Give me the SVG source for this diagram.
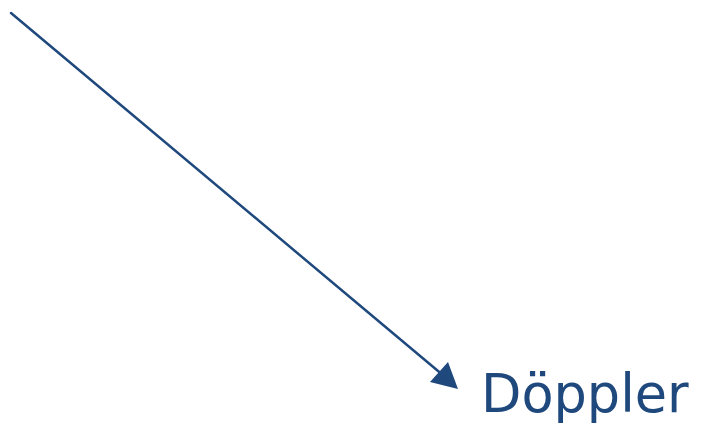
<svg xmlns="http://www.w3.org/2000/svg" width="702" height="425" viewBox="0 0 702 425">
<style>
.lbl{font-family:"DejaVu Sans","Liberation Sans",sans-serif;font-size:52.5px;fill:#1f497d}
.conn{stroke:#1f497d;stroke-width:2.5;fill:none;stroke-linecap:round}
</style>
<rect width="702" height="425" fill="#ffffff"/>
<g id="connectors">
<line class="conn" x1="11" y1="13" x2="444" y2="376"/>
<polygon points="458,389 430,382 448,362" fill="#1f497d"/>
</g>
<g id="node-doppler">
<text class="lbl" x="481" y="412">Döppler</text>
</g>
</svg>
